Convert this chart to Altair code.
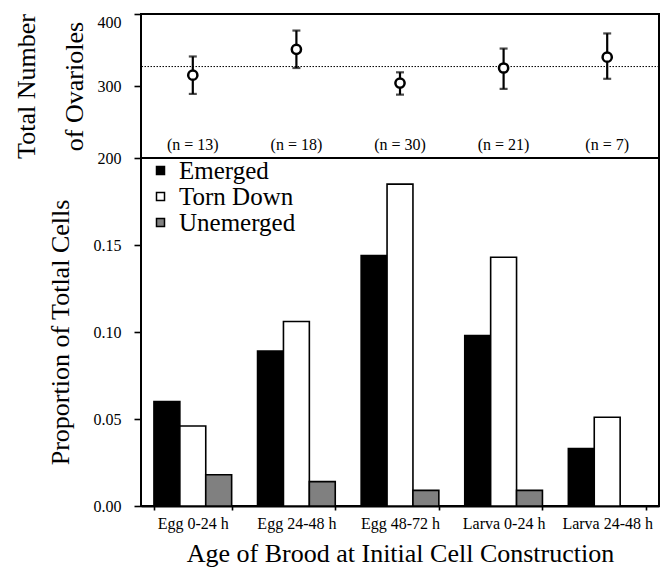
import altair as alt
import pandas as pd

# ---------------- data ----------------
AGES = ["Egg 0-24 h", "Egg 24-48 h", "Egg 48-72 h", "Larva 0-24 h", "Larva 24-48 h"]
N_LABELS = ["(n = 13)", "(n = 18)", "(n = 30)", "(n = 21)", "(n = 7)"]
OVARIOLE_MEAN = [315, 351, 304, 325, 340]
OVARIOLE_UPPER = [341, 377, 319, 352, 373]
OVARIOLE_LOWER = [289, 325, 288, 296, 310]
OVARIOLE_REF = 327

CATEGORIES = ["Emerged", "Torn Down", "Unemerged"]
EMERGED = [0.060, 0.089, 0.144, 0.098, 0.033]
TORN_DOWN = [0.046, 0.106, 0.185, 0.143, 0.051]
UNEMERGED = [0.018, 0.014, 0.009, 0.009, 0.0]
COLORS = ["#000000", "#ffffff", "#808080"]

FONT = "'Liberation Serif', 'Times New Roman', Times, 'DejaVu Serif', serif"

top_df = pd.DataFrame({
    "Age": AGES, "n": N_LABELS,
    "mean": OVARIOLE_MEAN, "upper": OVARIOLE_UPPER, "lower": OVARIOLE_LOWER,
})
ref_df = pd.DataFrame({"ref": [OVARIOLE_REF]})

rows = []
for cat, vals in zip(CATEGORIES, [EMERGED, TORN_DOWN, UNEMERGED]):
    for a, v in zip(AGES, vals):
        rows.append({"Age": a, "Type": cat, "Proportion": v})
bar_df = pd.DataFrame(rows)

x_scale = alt.Scale(domain=AGES, paddingInner=0.25, paddingOuter=0.125)
W = 518
TOP_H = 144

# ---------------- top panel ----------------
x_top = alt.X("Age:N", scale=x_scale, axis=None, sort=AGES)
y_top_scale = alt.Scale(domain=[200, 400], nice=False, zero=False)
y_top_axis = alt.Axis(
    title=["Total Number", "of Ovarioles"],
    values=[200, 250, 300, 350, 400],
    labelExpr="datum.value % 100 == 0 ? datum.label : ''",
    labelBaseline={"condition": {"test": "datum.value == 400", "value": "top"},
                   "value": "middle"},
    titleLineHeight=48, titlePadding=10,
)

ref_rule = alt.Chart(ref_df).mark_rule(
    color="black", strokeWidth=1, strokeDash=[1.5, 1.5]
).encode(y=alt.Y("ref:Q", scale=y_top_scale, axis=y_top_axis))

err = alt.Chart(top_df).mark_rule(color="black", strokeWidth=2.2).encode(
    x=x_top, y=alt.Y("lower:Q", scale=y_top_scale, axis=y_top_axis), y2="upper:Q"
)
cap_lo = alt.Chart(top_df).mark_tick(
    color="black", thickness=2.2, size=8, orient="horizontal"
).encode(x=x_top, y=alt.Y("lower:Q", scale=y_top_scale))
cap_hi = alt.Chart(top_df).mark_tick(
    color="black", thickness=2.2, size=8, orient="horizontal"
).encode(x=x_top, y=alt.Y("upper:Q", scale=y_top_scale))
pts = alt.Chart(top_df).mark_point(
    shape="circle", fill="white", stroke="black", strokeWidth=2.5,
    size=85, opacity=1, fillOpacity=1
).encode(x=x_top, y=alt.Y("mean:Q", scale=y_top_scale))
ntext = alt.Chart(top_df).mark_text(
    font=FONT, fontSize=16, color="black", baseline="middle"
).encode(x=x_top, y=alt.value(131), text="n:N")

top = alt.layer(ref_rule, err, cap_lo, cap_hi, pts, ntext).properties(
    width=W, height=TOP_H
)

# ---------------- bottom panel ----------------
bottom = alt.Chart(bar_df).mark_bar(stroke="black", strokeWidth=1.6).encode(
    x=alt.X("Age:N", scale=x_scale, sort=AGES,
            axis=alt.Axis(title="Age of Brood at Initial Cell Construction",
                          labelAngle=0, tickBand="extent", tickSize=4,
                          labelPadding=5, titlePadding=9, labelFontSize=16,
                          domain=True, domainColor="black", domainWidth=2)),
    xOffset=alt.XOffset("Type:N", sort=CATEGORIES,
                        scale=alt.Scale(domain=CATEGORIES, paddingInner=0, paddingOuter=0)),
    y=alt.Y("Proportion:Q", scale=alt.Scale(domain=[0, 0.2], nice=False),
            axis=alt.Axis(title="Proportion of Totlal Cells",
                          values=[0, 0.05, 0.10, 0.15], format=".2f",
                          titlePadding=20)),
    color=alt.Color("Type:N", sort=CATEGORIES,
                    scale=alt.Scale(domain=CATEGORIES, range=COLORS),
                    legend=alt.Legend(title=None, orient="none", legendX=7,
                                      legendY=TOP_H,
                                      symbolType="square", symbolSize=64,
                                      symbolStrokeColor="black", symbolStrokeWidth=1.5,
                                      labelFontSize=25, labelOffset=6, padding=0,
                                      rowPadding=0, labelFont=FONT, labelColor="black")),
).properties(width=W, height=348)

chart = alt.vconcat(top, bottom, spacing=0, bounds="flush").properties(
    padding={"left": 4, "top": 4, "right": 0, "bottom": 0}
).configure(font=FONT).configure_view(
    stroke="black", strokeWidth=2
).configure_axis(
    grid=False, domain=False, tickColor="black", tickWidth=1.6, tickSize=7,
    labelColor="black", labelFontSize=16, labelPadding=13, labelFont=FONT,
    titleFont=FONT, titleFontSize=26, titleFontWeight="normal", titleColor="black",
)

chart.save("out.html", embed_options={"renderer": "svg", "actions": False})
